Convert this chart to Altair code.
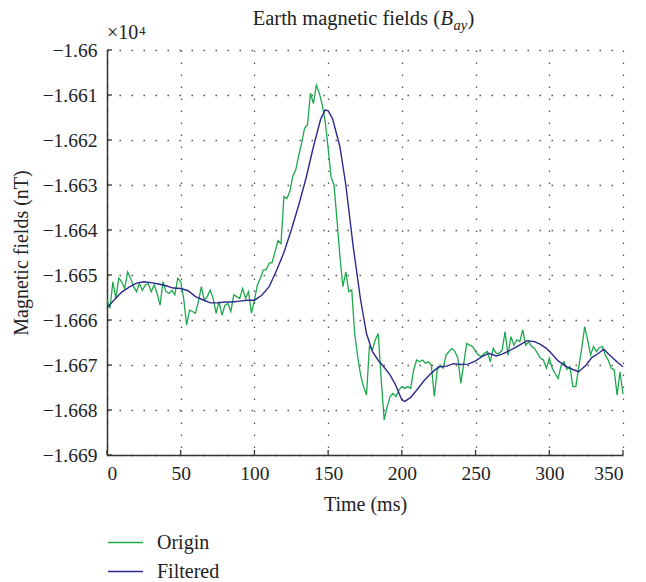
import altair as alt
import pandas as pd

# ---------------- data ----------------
origin_t = list(range(0, 351, 2))
origin_v = [
    -1.66555, -1.66574, -1.66515, -1.66552, -1.66507, -1.66515, -1.66530, -1.66493, -1.66507, -1.66526,
    -1.66537, -1.66519, -1.66534, -1.66522, -1.66519, -1.66537, -1.66522, -1.66541, -1.66567, -1.66515,
    -1.66537, -1.66541, -1.66534, -1.66544, -1.66507, -1.66515, -1.66552, -1.66611, -1.66578, -1.66581,
    -1.66585, -1.66559, -1.66526, -1.66556, -1.66548, -1.66534, -1.66552, -1.66585, -1.66559, -1.66589,
    -1.66567, -1.66563, -1.66581, -1.66544, -1.66548, -1.66552, -1.66530, -1.66552, -1.66537, -1.66585,
    -1.66556, -1.66522, -1.66507, -1.66489, -1.66488, -1.66474, -1.66472, -1.66448, -1.66424, -1.66430,
    -1.66326, -1.66330, -1.66315, -1.66281, -1.66267, -1.66235, -1.66207, -1.66174, -1.66166, -1.66096,
    -1.66119, -1.66078, -1.66096, -1.66122, -1.66159, -1.66218, -1.66283, -1.66300, -1.66378, -1.66459,
    -1.66526, -1.66493, -1.66537, -1.66533, -1.66630, -1.66681, -1.66722, -1.66748, -1.66767, -1.66659,
    -1.66667, -1.66644, -1.66630, -1.66733, -1.66822, -1.66793, -1.66770, -1.66763, -1.66770, -1.66756,
    -1.66748, -1.66752, -1.66748, -1.66752, -1.66711, -1.66689, -1.66693, -1.66689, -1.66696, -1.66693,
    -1.66700, -1.66770, -1.66711, -1.66700, -1.66707, -1.66678, -1.66670, -1.66663, -1.66670, -1.66685,
    -1.66741, -1.66696, -1.66652, -1.66656, -1.66659, -1.66670, -1.66678, -1.66681, -1.66674, -1.66670,
    -1.66693, -1.66663, -1.66674, -1.66674, -1.66667, -1.66626, -1.66678, -1.66637, -1.66656, -1.66644,
    -1.66648, -1.66622, -1.66656, -1.66648, -1.66659, -1.66663, -1.66674, -1.66685, -1.66689, -1.66707,
    -1.66685, -1.66707, -1.66719, -1.66730, -1.66702, -1.66693, -1.66710, -1.66704, -1.66748, -1.66748,
    -1.66704, -1.66663, -1.66615, -1.66644, -1.66678, -1.66659, -1.66670, -1.66661, -1.66659, -1.66678,
    -1.66689, -1.66707, -1.66711, -1.66767, -1.66715, -1.66765,
]

filtered_t = [0, 5, 10, 15, 20, 25, 30, 35, 40, 45, 50, 55, 60, 65, 70, 75, 80, 85, 90, 95,
              100, 105, 110, 115, 120, 125, 130, 135, 140, 145, 148, 150, 153, 158, 162, 167,
              172, 176, 180, 184, 188, 192, 196, 200, 202, 206, 210, 215, 220, 225, 230, 235,
              240, 245, 250, 255, 259, 264, 268, 272, 278, 285, 290, 294, 298, 302, 306, 312,
              316, 320, 325, 329, 333, 337, 340, 344, 347, 350]
filtered_v = [-1.66573, -1.66555, -1.66538, -1.66527, -1.66518, -1.66515, -1.66517, -1.66520,
              -1.66524, -1.66529, -1.66530, -1.66535, -1.66548, -1.66555, -1.66562, -1.66562,
              -1.66560, -1.66560, -1.66558, -1.66556, -1.66556, -1.66545, -1.66526, -1.66490,
              -1.66450, -1.66400, -1.66345, -1.66285, -1.66215, -1.66153, -1.66133, -1.66135,
              -1.66153, -1.66215, -1.66300, -1.66437, -1.66555, -1.66630, -1.66670, -1.66690,
              -1.66705, -1.66722, -1.66746, -1.66778, -1.66781, -1.66772, -1.66756, -1.66735,
              -1.66718, -1.66704, -1.66703, -1.66697, -1.66699, -1.66698, -1.66691, -1.66680,
              -1.66674, -1.66680, -1.66676, -1.66670, -1.66659, -1.66646, -1.66648, -1.66654,
              -1.66663, -1.66676, -1.66691, -1.66704, -1.66710, -1.66715, -1.66700, -1.66683,
              -1.66675, -1.66665, -1.66675, -1.66687, -1.66696, -1.66704]

x_ticks = [0, 50, 100, 150, 200, 250, 300, 350]
y_ticks = [-1.669, -1.668, -1.667, -1.666, -1.665, -1.664, -1.663, -1.662, -1.661, -1.66]
series = ["Origin", "Filtered"]
colors = ["#1ea84e", "#2c2a8e"]

# ---------------- style ----------------
FONT = "Liberation Serif"
INK = "#222222"
AXIS = "#333333"
W, H = 516, 405

xs = alt.Scale(domain=[0, 350], nice=False, zero=False)
ys = alt.Scale(domain=[-1.669, -1.66], nice=False, zero=False)
cs = alt.Scale(domain=series, range=colors)

x_axis = alt.Axis(values=x_ticks, title="Time (ms)", grid=True, ticks=False,
                  labelPadding=9, titlePadding=12, format="d",
                  labelFont=FONT, titleFont=FONT)
y_axis = alt.Axis(values=y_ticks, title="Magnetic fields (nT)", grid=True, ticks=False,
                  labelPadding=10, titlePadding=11,
                  labelFont=FONT, titleFont=FONT,
                  labelExpr="replace(format(datum.value, '.4~f'), '-', '\u2212')")
legend = alt.Legend(title=None, orient="none", legendX=0, legendY=474,
                    symbolType="stroke", symbolSize=1225, symbolStrokeWidth=1.5,
                    labelFont=FONT, labelFontSize=20, labelColor=INK, labelOffset=13,
                    rowPadding=-10, padding=0)

df_o = pd.DataFrame({"t": origin_t, "v": origin_v, "s": series[0]})
df_f = pd.DataFrame({"t": filtered_t, "v": filtered_v, "s": series[1]})

enc = dict(
    x=alt.X("t:Q", scale=xs, axis=x_axis),
    y=alt.Y("v:Q", scale=ys, axis=y_axis),
    color=alt.Color("s:N", scale=cs, legend=legend),
)

origin = alt.Chart(df_o).mark_line(strokeWidth=1.3).encode(**enc)
filtered = alt.Chart(df_f).mark_line(strokeWidth=1.4).encode(**enc)

# inward tick marks
ytick_layer = alt.Chart(pd.DataFrame({"v": y_ticks})).mark_rule(color=AXIS, strokeWidth=1.3).encode(
    y=alt.Y("v:Q", scale=ys, axis=y_axis), x=alt.value(0), x2=alt.value(5))
xtick_layer = alt.Chart(pd.DataFrame({"t": x_ticks})).mark_rule(color=AXIS, strokeWidth=1.3).encode(
    x=alt.X("t:Q", scale=xs, axis=x_axis), y=alt.value(H), y2=alt.value(H - 5))


def txt(s, x, y, size=20, italic=False, align="left"):
    return alt.Chart(alt.Data(values=[{}])).mark_text(
        text=s, font=FONT, fontSize=size, fontStyle="italic" if italic else "normal",
        align=align, baseline="alphabetic", color=INK).encode(x=alt.value(x), y=alt.value(y))


title_parts = [
    txt("Earth magnetic fields (", 333, -25, size=20.5, align="right"),
    txt("B", 333.5, -25, size=20.5, italic=True),
    txt("ay", 346.5, -20, size=14.5, italic=True),
    txt(")", 360.5, -25, size=20.5),
]
exp_parts = [
    txt("\u00d710", 0, -10.7),
    txt("4", 32, -15, size=13),
]

chart = alt.layer(origin, filtered, ytick_layer, xtick_layer, *title_parts, *exp_parts).properties(
    width=W, height=H,
    autosize=alt.AutoSizeParams(type="none"),
    padding={"left": 99, "top": 42, "right": 15, "bottom": 127},
).configure_axis(
    domainColor=AXIS, domainWidth=1.5,
    gridColor="#555555", gridDash=[1.5, 10.5], gridWidth=1.3, gridOpacity=1,
    labelFont=FONT, labelFontSize=19.5, labelColor=INK,
    titleFont=FONT, titleFontSize=20, titleFontWeight="normal", titleColor=INK,
).configure_view(stroke="transparent")

chart.save("out.html", embed_options={"renderer": "svg", "actions": False})
